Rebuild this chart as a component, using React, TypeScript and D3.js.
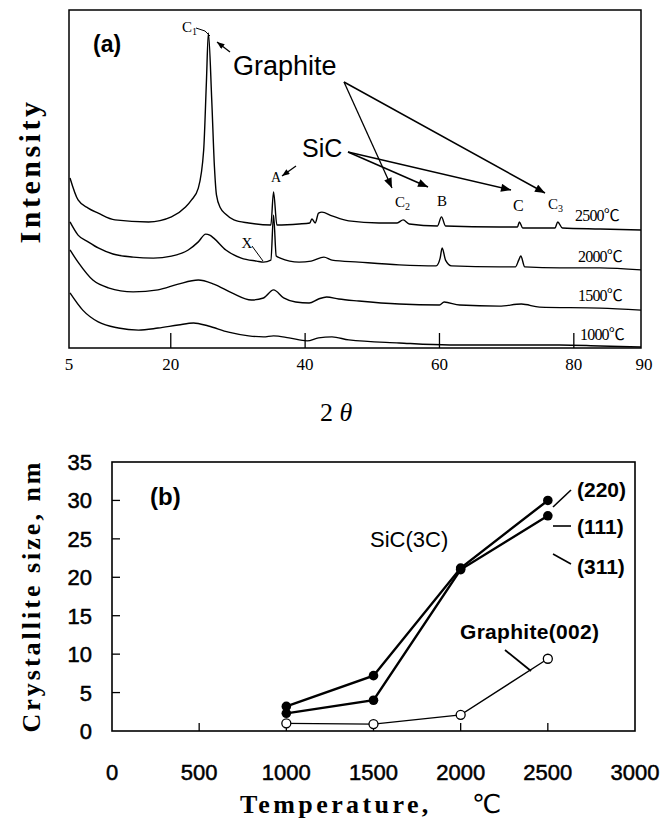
import React from "react";
import * as d3 from "d3";

// ---------- Panel (a): XRD patterns (stacked, arbitrary intensity units) ----------
const theta2500 = [5, 6.2, 7.7, 9.2, 11.7, 16.7, 20.1, 22.2, 23.1, 24.1, 24.9, 25.3, 25.6, 26.1, 26.5, 26.8, 27.4, 28.2, 29.4, 31.6, 34.9, 35.3, 35.8, 39.1, 40.7, 41.0, 41.5, 42.0, 42.5, 44.0, 46.5, 51.0, 53.7, 54.6, 55.5, 59.7, 60.3, 60.9, 68.9, 71.6, 71.9, 72.4, 77.2, 77.6, 78.3, 83.9, 90];
const int2500 = [503, 438, 414, 399, 379, 373, 388, 417, 438, 473, 586, 784, 932, 734, 536, 453, 414, 396, 379, 370, 364, 462, 364, 367, 370, 382, 370, 399, 402, 391, 376, 370, 370, 379, 367, 361, 388, 361, 358, 358, 373, 355, 355, 373, 355, 352, 349];

const theta2000 = [5, 6.2, 7.7, 9.2, 11.4, 14.4, 17.4, 20.1, 22.6, 24.1, 25.2, 25.8, 26.4, 28.2, 30.5, 32.8, 33.8, 34.9, 35.3, 35.7, 36.3, 39.1, 40.9, 42.8, 44.0, 48.0, 54.0, 59.5, 60.1, 60.4, 60.9, 61.8, 68.9, 71.3, 71.8, 72.1, 72.7, 77.9, 83.9, 90];
const int2000 = [373, 334, 314, 296, 278, 269, 266, 272, 290, 314, 337, 334, 325, 290, 266, 257, 254, 260, 393, 272, 266, 254, 257, 269, 260, 254, 246, 243, 266, 296, 260, 243, 240, 240, 260, 272, 240, 237, 237, 231];

const theta1500 = [5, 6.2, 8.4, 10.7, 14.4, 18.1, 21.1, 24.1, 26.4, 29.1, 32.0, 33.8, 35.3, 36.8, 38.6, 40.6, 42.0, 43.2, 45.0, 48.0, 54.0, 60.0, 60.7, 63.0, 68.9, 72.2, 74.9, 83.9, 90];
const int1500 = [290, 254, 201, 178, 166, 172, 189, 201, 189, 163, 142, 148, 172, 148, 136, 133, 145, 151, 145, 139, 130, 127, 136, 127, 124, 130, 121, 118, 112];

const theta1000 = [5, 6.9, 9.2, 12.2, 15.2, 18.1, 21.1, 23.4, 25.6, 28.6, 31.6, 33.8, 35.3, 37.6, 40.3, 42.0, 44.0, 46.5, 54.0, 61.5, 68.9, 77.9, 83.9, 90];
const int1000 = [163, 112, 77, 59, 53, 59, 68, 74, 65, 47, 36, 33, 36, 30, 21, 30, 33, 24, 15, 9, 9, 9, 6, 3];

const traceLabels = ["2500℃", "2000℃", "1500℃", "1000℃"];
const xTicksA = [5, 20, 40, 60, 80, 90];
const innerTicksA = [20, 40, 60, 80];

// ---------- Panel (b): crystallite size ----------
const temps = [1000, 1500, 2000, 2500];
const sic220 = [3.2, 7.2, 21.2, 30.0];
const sic111 = [2.3, 4.0, 21.0, 28.0];
const graphite002 = [1.0, 0.9, 2.1, 9.4];
const xTicksB = [0, 500, 1000, 1500, 2000, 2500, 3000];
const yTicksB = [0, 5, 10, 15, 20, 25, 30, 35];

const SERIF = "'Liberation Serif', 'Times New Roman', serif";
const SANS = "'Liberation Sans', Arial, sans-serif";
const CJK = "'Liberation Serif', 'Noto Sans CJK JP', serif";

export default function App() {
  // panel (a) scales
  const xA = d3.scaleLinear().domain([5, 90]).range([70, 641]);
  const yA = d3.scaleLinear().domain([0, 1000]).range([348, 10]);
  const lineA = d3
    .line<[number, number]>()
    .x((d) => xA(d[0]))
    .y((d) => yA(d[1]))
    .curve(d3.curveMonotoneX);
  const traces: [number[], number[]][] = [
    [theta2500, int2500],
    [theta2000, int2000],
    [theta1500, int1500],
    [theta1000, int1000],
  ];
  const labelY = [221, 262, 301, 340];
  const labelX = [575, 578, 578, 580];

  // panel (b) scales
  const xB = d3.scaleLinear().domain([0, 3000]).range([112, 635]);
  const yB = d3.scaleLinear().domain([0, 35]).range([731, 462]);
  const lineB = d3
    .line<number>()
    .x((_, i) => xB(temps[i]))
    .y((d) => yB(d));

  return (
    <svg
      width={672}
      height={823}
      style={{ position: "absolute", left: 0, top: 0, background: "#fff" }}
    >
      <defs>
        <marker
          id="ah"
          viewBox="0 0 10 8"
          refX={10}
          refY={4}
          markerWidth={11}
          markerHeight={8}
          markerUnits="userSpaceOnUse"
          orient="auto"
        >
          <path d="M0,0 L10,4 L0,8 Z" fill="#000" />
        </marker>
        <marker
          id="ahs"
          viewBox="0 0 10 8"
          refX={10}
          refY={4}
          markerWidth={8}
          markerHeight={6}
          markerUnits="userSpaceOnUse"
          orient="auto"
        >
          <path d="M0,0 L10,4 L0,8 Z" fill="#000" />
        </marker>
      </defs>

      {/* ===================== Panel (a) ===================== */}
      <rect x={69} y={10} width={572} height={338} fill="none" stroke="#000" strokeWidth={1.5} />
      {innerTicksA.map((t) => (
        <line key={t} x1={xA(t)} x2={xA(t)} y1={348} y2={333} stroke="#000" strokeWidth={1.3} />
      ))}
      {xTicksA.map((t) => (
        <text
          key={t}
          x={t === 5 ? 69 : t === 90 ? 644 : xA(t)}
          y={370}
          textAnchor="middle"
          fontFamily={SERIF}
          fontSize={17}
        >
          {t}
        </text>
      ))}
      {traces.map(([th, it], i) => (
        <path
          key={i}
          d={lineA(th.map((t, j) => [t, it[j]] as [number, number])) || ""}
          fill="none"
          stroke="#000"
          strokeWidth={1.4}
        />
      ))}
      {traceLabels.map((l, i) => (
        <text key={l} x={labelX[i]} y={labelY[i]} fontFamily={CJK} fontSize={16} letterSpacing={-0.8}>
          {l}
        </text>
      ))}

      <text x={93} y={52} fontFamily={SANS} fontWeight="bold" fontSize={23}>(a)</text>

      {/* peak labels */}
      <text x={182} y={32} fontFamily={SERIF} fontSize={15}>
        C<tspan fontSize={10} dy={3}>1</tspan>
      </text>
      <polyline points="196,28 205,31 210,36" fill="none" stroke="#000" strokeWidth={1} />
      <text x={276} y={182} textAnchor="middle" fontFamily={SERIF} fontSize={14}>A</text>
      <text x={247} y={248} textAnchor="middle" fontFamily={SERIF} fontSize={15}>X</text>
      <line x1={252} y1={246} x2={263} y2={261} stroke="#000" strokeWidth={1} />
      <text x={395} y={207} fontFamily={SERIF} fontSize={15}>
        C<tspan fontSize={10} dy={3}>2</tspan>
      </text>
      <text x={442} y={206} textAnchor="middle" fontFamily={SERIF} fontSize={15}>B</text>
      <text x={513} y={211} fontFamily={SERIF} fontSize={16}>C</text>
      <text x={548} y={209} fontFamily={SERIF} fontSize={15}>
        C<tspan fontSize={10} dy={3}>3</tspan>
      </text>

      {/* annotations */}
      <text x={233} y={75} fontFamily={SANS} fontSize={27}>Graphite</text>
      <text x={302} y={157} fontFamily={SANS} fontSize={25}>SiC</text>
      <line x1={230} y1={52} x2={217} y2={42} stroke="#000" strokeWidth={1.3} markerEnd="url(#ahs)" />
      <line x1={296} y1={166} x2={282} y2={176} stroke="#000" strokeWidth={1.3} markerEnd="url(#ahs)" />
      <line x1={344} y1={82} x2={392} y2={188} stroke="#000" strokeWidth={1.3} markerEnd="url(#ah)" />
      <line x1={344} y1={82} x2={545} y2={193} stroke="#000" strokeWidth={1.5} markerEnd="url(#ah)" />
      <line x1={348} y1={152} x2={428} y2={187} stroke="#000" strokeWidth={1.5} markerEnd="url(#ah)" />
      <line x1={348} y1={152} x2={511} y2={190} stroke="#000" strokeWidth={1.5} markerEnd="url(#ah)" />

      {/* axis titles (a) */}
      <text
        transform="translate(40,171) rotate(-90)"
        textAnchor="middle"
        fontFamily={SERIF}
        fontWeight="bold"
        fontSize={30}
        letterSpacing={3.5}
      >
        Intensity
      </text>
      <text x={320} y={421} fontFamily={SERIF} fontSize={26}>
        2 <tspan fontStyle="italic">θ</tspan>
      </text>

      {/* ===================== Panel (b) ===================== */}
      <rect x={112} y={462} width={523} height={269} fill="none" stroke="#000" strokeWidth={1.6} />
      {yTicksB.slice(1, -1).map((t) => (
        <line key={t} x1={112} x2={120} y1={yB(t)} y2={yB(t)} stroke="#000" strokeWidth={1.3} />
      ))}
      {xTicksB.slice(1, -1).map((t) => (
        <line key={t} x1={xB(t)} x2={xB(t)} y1={731} y2={723} stroke="#000" strokeWidth={1.3} />
      ))}
      {yTicksB.map((t) => (
        <text
          key={t}
          x={92}
          y={yB(t) + 8}
          textAnchor="end"
          fontFamily={SANS}
          fontSize={22}
          stroke="#000"
          strokeWidth={0.5}
        >
          {t}
        </text>
      ))}
      {xTicksB.map((t) => (
        <text
          key={t}
          x={xB(t)}
          y={780}
          textAnchor="middle"
          fontFamily={SANS}
          fontSize={22}
          stroke="#000"
          strokeWidth={0.5}
        >
          {t}
        </text>
      ))}

      <path d={lineB(sic220) || ""} fill="none" stroke="#000" strokeWidth={2.4} />
      <path d={lineB(sic111) || ""} fill="none" stroke="#000" strokeWidth={2.4} />
      <path d={lineB(graphite002) || ""} fill="none" stroke="#000" strokeWidth={1.3} />
      {[sic220, sic111].map((s, k) =>
        s.map((v, i) => <circle key={`${k}-${i}`} cx={xB(temps[i])} cy={yB(v)} r={4.8} fill="#000" />)
      )}
      {graphite002.map((v, i) => (
        <circle key={`g-${i}`} cx={xB(temps[i])} cy={yB(v)} r={4.5} fill="#fff" stroke="#000" strokeWidth={1.3} />
      ))}

      <text x={150} y={505} fontFamily={SANS} fontWeight="bold" fontSize={24}>(b)</text>
      <text x={370} y={547} fontFamily={SANS} fontSize={22}>SiC(3C)</text>
      <text x={577} y={497} fontFamily={SANS} fontWeight="bold" fontSize={21}>(220)</text>
      <text x={577} y={534} fontFamily={SANS} fontWeight="bold" fontSize={21}>(111)</text>
      <text x={577} y={574} fontFamily={SANS} fontWeight="bold" fontSize={21}>(311)</text>
      <line x1={553} y1={507} x2={571} y2={490} stroke="#000" strokeWidth={1.6} />
      <line x1={553} y1={526} x2={571} y2={526} stroke="#000" strokeWidth={1.6} />
      <line x1={553} y1={554} x2={571} y2={564} stroke="#000" strokeWidth={1.6} />
      <text x={460} y={639} fontFamily={SANS} fontWeight="bold" fontSize={21} letterSpacing={0.3}>
        Graphite(002)
      </text>
      <line x1={505} y1={650} x2={531} y2={671} stroke="#000" strokeWidth={1.8} />

      <text
        transform="translate(40,596) rotate(-90)"
        textAnchor="middle"
        fontFamily={SERIF}
        fontWeight="bold"
        fontSize={26}
        letterSpacing={3}
      >
        Crystallite size, nm
      </text>
      <text x={240} y={813} fontFamily={SERIF} fontWeight="bold" fontSize={26} letterSpacing={3.4}>
        Temperature,
      </text>
      <text x={472} y={813} fontFamily={"'DejaVu Sans', 'Liberation Sans', sans-serif"} fontSize={26}>
        ℃
      </text>
    </svg>
  );
}
